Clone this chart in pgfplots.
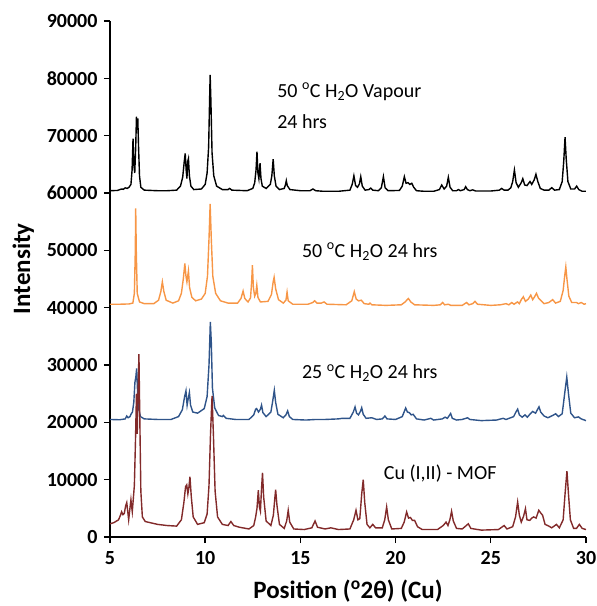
\documentclass[border=0pt]{standalone}
\usepackage{pgfplots}
\pgfplotsset{compat=1.18}
\usepackage{fontspec}
\setmainfont{Carlito}
\definecolor{cblack}{RGB}{0,0,0}
\definecolor{corange}{RGB}{247,150,70}
\definecolor{cblue}{RGB}{47,84,138}
\definecolor{cred}{RGB}{130,42,42}
\begin{document}
\begin{tikzpicture}
\path[use as bounding box] (-110pt,-69pt) rectangle (487pt,537pt);
\begin{axis}[
  at={(0,0)}, anchor=south west,
  scale only axis, width=476pt, height=516pt,
  xmin=5, xmax=30, ymin=0, ymax=90000,
  xtick={5,10,15,20,25,30},
  ytick={0,10000,20000,30000,40000,50000,60000,70000,80000,90000},
  scaled y ticks=false,
  axis lines*=left,
  axis line style={line width=1.6pt},
  tick style={line width=1.4pt, black},
  tick align=outside,
  major tick length=6pt,
  /pgf/number format/assume math mode=true,
  tick label style={font=\fontsize{20}{22}\selectfont\bfseries},
  yticklabel style={xshift=-3pt, /pgf/number format/fixed, /pgf/number format/precision=0, /pgf/number format/set thousands separator={}},
  xticklabel style={yshift=-5pt},
  xlabel={Position (\textsuperscript{o}2θ) (Cu)},
  ylabel={Intensity},
  xlabel style={font=\fontsize{25}{28}\selectfont\bfseries, at={(axis description cs:0.5,-0.105)}, anchor=center},
  ylabel style={font=\fontsize{25}{28}\selectfont\bfseries, at={(axis description cs:-0.182,0.52)}, anchor=center, rotate=0},
  clip=false,
]
% black: 50 C H2O vapour 24 hrs
\addplot[cblack, line width=1.4pt] coordinates {
(5.0,60400) (5.4,60450) (5.6,60700) (5.7,60650) (5.8,60900) (5.9,60800) (6.0,61000) (6.1,61500) (6.16,64000) (6.21,69500) (6.25,65000) (6.3,63500) (6.35,68000) (6.39,73300) (6.42,71000) (6.46,73000) (6.5,68000) (6.55,63000) (6.62,61000) (6.8,60500) (7.5,60400) (8.0,60400) (8.5,60500) (8.7,61200) (8.82,62800) (8.9,65500) (8.95,66900) (9.0,64000) (9.04,62500) (9.08,65500) (9.12,66000) (9.17,63000) (9.25,61200) (9.4,60600) (9.8,60700) (10.0,61500) (10.1,63500) (10.18,68000) (10.23,76000) (10.26,80600) (10.3,76000) (10.36,67000) (10.45,63000) (10.6,61200) (10.9,60600) (11.2,60600) (11.28,60800) (11.4,60500) (12.2,60400) (12.5,60800) (12.6,61800) (12.67,64000) (12.72,67200) (12.77,63500) (12.82,62500) (12.88,65200) (12.93,62500) (13.0,61200) (13.2,60800) (13.42,61500) (13.5,63000) (13.57,65900) (13.63,63000) (13.72,61200) (13.9,60600) (14.15,60800) (14.22,61500) (14.26,62150) (14.31,61300) (14.45,60600) (15.0,60400) (15.5,60400) (15.66,60700) (15.8,60400) (16.2,60300) (17.0,60300) (17.6,60500) (17.72,61500) (17.81,63000) (17.9,61300) (18.0,61000) (18.1,61600) (18.17,62850) (18.25,61200) (18.4,60500) (18.6,60600) (18.69,60850) (18.8,60500) (19.1,60400) (19.25,60900) (19.36,62850) (19.45,60900) (19.6,60400) (20.2,60450) (20.35,61200) (20.46,62850) (20.55,61700) (20.65,61800) (20.75,61500) (20.85,61700) (20.95,61000) (21.1,60400) (21.5,60300) (22.0,60300) (22.3,60600) (22.42,61400) (22.55,60700) (22.68,61200) (22.77,62740) (22.86,61000) (23.0,60400) (23.2,60400) (23.3,60600) (23.4,60400) (23.6,60600) (23.68,61100) (23.77,60600) (23.9,60400) (24.05,60550) (24.2,60350) (25.0,60350) (25.45,60500) (25.57,60800) (25.7,60500) (25.9,60500) (26.05,60900) (26.15,62000) (26.24,64000) (26.33,61800) (26.45,61000) (26.6,61800) (26.68,62500) (26.78,61400) (26.9,61300) (27.06,62000) (27.15,61500) (27.28,62300) (27.37,63270) (27.47,62000) (27.6,60800) (27.8,60500) (28.05,60500) (28.2,60930) (28.35,60500) (28.6,60600) (28.75,62000) (28.83,65500) (28.9,69730) (28.96,66000) (29.05,62000) (29.2,60700) (29.4,60700) (29.51,61200) (29.62,60600) (29.8,60300) (30.0,60300)
};
% orange: 50 C H2O 24 hrs
\addplot[corange, line width=1.4pt] coordinates {
(5.0,40600) (5.5,40600) (6.0,40650) (6.2,40800) (6.28,42500) (6.33,50000) (6.35,57300) (6.38,50000) (6.43,42500) (6.55,41000) (6.8,40700) (7.3,40700) (7.55,41300) (7.67,42800) (7.75,44500) (7.83,42800) (7.95,41300) (8.3,40800) (8.6,41200) (8.75,42500) (8.85,45000) (8.93,47700) (8.99,45500) (9.04,44500) (9.12,46400) (9.18,43500) (9.3,41800) (9.5,41200) (9.8,41500) (10.0,42500) (10.12,45500) (10.2,52000) (10.26,58100) (10.32,52000) (10.4,45500) (10.55,42500) (10.8,41200) (11.2,40800) (11.7,40800) (11.88,41600) (11.99,42900) (12.08,41600) (12.25,41000) (12.38,41700) (12.44,44500) (12.48,47400) (12.53,43500) (12.6,42000) (12.66,42500) (12.71,43900) (12.77,41800) (12.9,41000) (13.3,41100) (13.48,42300) (13.57,44500) (13.62,45300) (13.7,43300) (13.85,41400) (14.1,40800) (14.24,41300) (14.3,42700) (14.36,41200) (14.6,40600) (15.4,40600) (15.65,40900) (15.75,41200) (15.87,40800) (16.1,40800) (16.24,41000) (16.4,40600) (17.4,40500) (17.7,41200) (17.83,42800) (17.93,41500) (18.05,41200) (18.2,41300) (18.35,40700) (18.6,40600) (18.66,40800) (18.75,40500) (19.5,40400) (20.3,40500) (20.5,41000) (20.67,41600) (20.8,41000) (21.0,40500) (22.0,40400) (22.35,40500) (22.47,40900) (22.58,40500) (22.77,40600) (22.9,40400) (23.5,40400) (23.73,40900) (23.85,40500) (24.05,40700) (24.17,41100) (24.3,40600) (25.0,40400) (25.5,40500) (25.8,40700) (25.95,40500) (26.1,40900) (26.22,40600) (26.4,41000) (26.5,40700) (26.6,41400) (26.71,41900) (26.82,41100) (26.97,41500) (27.1,42200) (27.2,41400) (27.3,41900) (27.4,42500) (27.5,41700) (27.62,41300) (27.8,40700) (28.05,40900) (28.25,41400) (28.4,40800) (28.65,41100) (28.8,43000) (28.88,45500) (28.94,47100) (29.0,45000) (29.1,42000) (29.25,40900) (29.5,40900) (29.6,40700) (29.75,40900) (29.9,40600) (30.0,40700)
};
% blue: 25 C H2O 24 hrs
\addplot[cblue, line width=1.4pt] coordinates {
(5.0,20500) (5.5,20450) (5.8,20600) (5.88,21100) (5.95,20800) (6.05,21000) (6.1,21400) (6.18,21800) (6.25,23500) (6.31,27000) (6.36,28000) (6.4,29400) (6.44,26000) (6.5,22500) (6.6,21000) (6.8,20600) (7.5,20500) (8.2,20500) (8.6,21000) (8.8,22200) (8.92,24500) (8.99,25500) (9.05,23000) (9.1,24000) (9.17,25200) (9.23,23000) (9.35,21800) (9.6,21600) (9.82,22100) (9.95,22400) (10.1,24500) (10.2,30000) (10.27,37500) (10.32,34000) (10.38,26000) (10.5,22500) (10.7,21200) (10.9,21000) (10.95,21200) (11.1,20700) (11.6,20500) (12.3,20500) (12.55,21300) (12.65,22300) (12.7,22400) (12.8,21800) (12.9,22300) (12.96,23000) (13.03,21700) (13.2,21000) (13.45,21800) (13.55,23800) (13.63,25600) (13.7,23500) (13.82,21400) (14.1,20800) (14.24,21300) (14.33,22000) (14.42,21000) (14.6,20500) (15.3,20400) (15.8,20500) (16.3,20500) (17.0,20600) (17.2,20700) (17.6,20700) (17.78,21800) (17.87,22700) (17.95,21600) (18.05,21300) (18.15,21900) (18.22,22550) (18.3,21400) (18.45,20700) (18.75,20800) (19.0,20500) (19.3,20600) (19.44,21100) (19.55,20600) (20.0,20500) (20.35,21000) (20.53,22500) (20.62,21800) (20.72,21700) (20.82,21300) (20.92,21400) (21.1,20600) (21.5,20400) (21.85,20700) (22.0,20400) (22.45,20600) (22.6,20900) (22.72,20700) (22.89,21540) (22.98,20700) (23.2,20400) (23.5,20500) (23.78,20800) (23.9,20500) (24.5,20300) (25.3,20400) (25.65,20700) (25.8,20500) (26.2,21000) (26.32,21800) (26.41,22300) (26.5,21300) (26.65,20900) (26.8,21300) (26.92,20900) (27.05,21400) (27.2,21900) (27.35,21600) (27.53,22700) (27.62,21800) (27.8,21100) (28.0,20800) (28.25,21200) (28.41,21500) (28.55,21000) (28.75,21500) (28.88,25000) (28.99,27900) (29.08,25000) (29.2,21600) (29.4,20800) (29.6,20950) (29.75,20600) (30.0,20300)
};
% red: Cu(I,II)-MOF
\addplot[cred, line width=1.4pt] coordinates {
(5.0,2300) (5.2,2500) (5.45,3000) (5.55,3800) (5.61,4400) (5.68,3900) (5.75,4100) (5.82,5400) (5.88,6000) (5.93,4500) (5.98,3000) (6.03,4500) (6.1,6500) (6.14,5200) (6.17,4400) (6.22,6500) (6.28,9000) (6.34,17000) (6.39,25000) (6.43,18000) (6.47,25000) (6.52,31900) (6.56,22000) (6.62,8000) (6.7,3500) (6.85,2700) (7.5,2200) (8.0,2000) (8.5,1900) (8.75,3000) (8.88,6000) (8.97,8800) (9.03,9100) (9.09,7500) (9.14,8500) (9.2,10500) (9.27,7000) (9.37,3500) (9.6,2200) (9.95,2500) (10.1,4000) (10.2,9000) (10.28,18000) (10.36,24600) (10.43,18000) (10.52,8000) (10.65,3500) (10.9,2200) (11.2,2000) (11.35,2700) (11.5,2000) (11.8,1700) (12.3,1400) (12.55,2000) (12.65,3500) (12.72,5000) (12.79,8150) (12.85,5200) (12.9,4500) (12.96,8500) (13.01,11200) (13.07,7000) (13.2,2800) (13.45,2000) (13.58,3800) (13.65,6500) (13.7,8270) (13.77,5500) (13.9,2200) (14.15,1500) (14.28,2800) (14.36,4660) (14.44,2600) (14.65,1400) (15.2,1300) (15.6,1600) (15.77,2800) (15.9,1700) (16.3,1400) (16.6,1600) (17.0,1300) (17.6,1400) (17.8,3000) (17.92,4660) (18.02,3000) (18.12,3200) (18.22,7500) (18.3,10000) (18.38,6000) (18.5,2200) (18.65,1600) (18.8,2200) (18.95,1600) (19.3,1600) (19.43,3000) (19.53,5240) (19.62,3000) (19.8,1400) (20.3,1500) (20.45,2600) (20.58,4370) (20.68,3300) (20.78,3400) (20.88,2900) (21.0,2900) (21.15,1800) (21.4,1300) (22.2,1300) (22.5,2000) (22.65,2600) (22.75,2000) (22.85,3000) (22.94,4490) (23.03,2800) (23.2,1500) (23.5,1400) (23.82,2300) (23.95,1500) (24.5,1200) (25.4,1300) (25.7,2000) (25.85,1400) (26.15,1800) (26.3,3500) (26.41,6100) (26.5,3800) (26.6,2600) (26.72,3600) (26.82,4950) (26.9,3000) (27.05,2900) (27.15,3300) (27.25,3500) (27.38,3300) (27.52,4660) (27.62,4200) (27.72,3800) (27.85,2200) (28.05,1900) (28.2,1600) (28.45,2200) (28.6,1600) (28.8,3000) (28.9,7500) (29.0,11500) (29.08,7500) (29.18,3000) (29.35,1500) (29.5,1500) (29.65,2200) (29.8,1500) (30.0,1300)
};
\node[anchor=west, font=\fontsize{20}{24}\selectfont, align=left] at (axis cs:13.6,77700) {50 \textsuperscript{o}C H\textsubscript{2}O Vapour};
\node[anchor=west, font=\fontsize{20}{24}\selectfont, align=left] at (axis cs:13.6,72450) {24 hrs};
\node[anchor=west, font=\fontsize{20}{24}\selectfont] at (axis cs:14.9,49750) {50 \textsuperscript{o}C H\textsubscript{2}O 24 hrs};
\node[anchor=west, font=\fontsize{20}{24}\selectfont] at (axis cs:14.9,28580) {25 \textsuperscript{o}C H\textsubscript{2}O 24 hrs};
\node[anchor=west, font=\fontsize{20}{24}\selectfont] at (axis cs:19.2,11070) {Cu (I,II) - MOF};
\end{axis}
\end{tikzpicture}
\end{document}
